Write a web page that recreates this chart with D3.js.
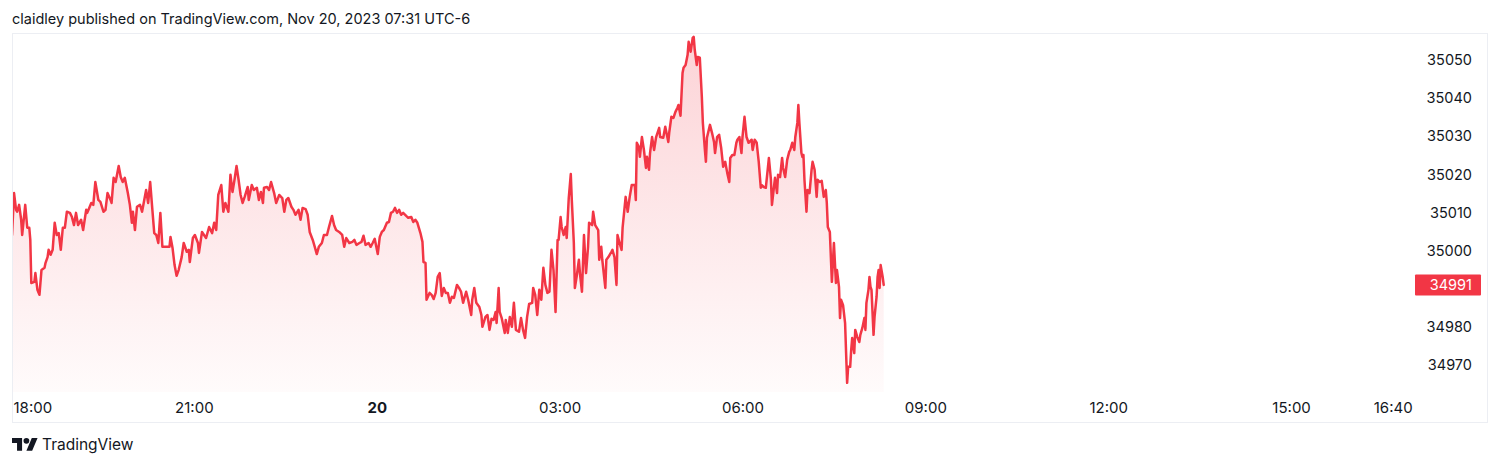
<!DOCTYPE html>
<html><head><meta charset="utf-8">
<script src="https://cdn.jsdelivr.net/npm/d3@7"></script>
<style>
body{margin:0;background:#fff;}
svg text{font-family:Inter,"Noto Sans",Roboto,sans-serif;fill:#131722;}
</style>
</head><body>
<svg id="chart" width="1500" height="466"></svg>
<script>
// ---- data (minutes after 18:00 on Nov 19, price) ----
const minutes = [
1,3,5,6,8,10,11,14,16,18,
19,20,23,24,26,28,30,33,34,36,
37,39,41,43,45,47,49,51,53,55,
58,60,62,64,66,69,71,74,75,77,
79,81,83,86,88,91,93,95,98,99,
101,103,106,108,110,112,115,117,119,120,
122,124,127,129,133,135,137,139,141,143,
145,147,149,152,156,157,159,161,163,165,
168,170,173,175,176,179,181,184,185,188,
192,195,198,200,202,204,207,209,211,214,
216,218,220,222,224,226,228,230,233,234,
237,239,242,244,246,248,249,252,254,256,
259,261,264,267,269,271,273,276,278,280,
283,285,287,290,292,294,297,299,301,303,
306,308,311,313,316,318,320,323,326,328,
330,333,336,338,340,343,345,347,349,352,
354,356,358,361,363,365,367,370,372,374,
376,378,380,382,384,386,389,391,394,396,
398,400,403,405,406,408,409,412,414,416,
418,420,422,424,426,428,430,432,434,436,
439,441,443,445,448,450,453,454,456,458,
461,463,464,467,469,471,473,475,477,478,
480,481,483,486,487,489,491,493,495,497,
500,502,504,506,508,510,513,514,516,518,
520,522,524,526,528,530,532,534,536,538,
539,541,542,544,546,547,549,551,552,554,
555,557,559,560,562,564,566,568,569,572,
573,575,578,579,581,582,585,586,588,591,
592,594,596,597,599,601,602,605,607,609,
611,614,615,616,618,619,621,623,625,626,
628,629,631,633,635,638,639,642,644,647,
648,650,652,654,656,657,659,661,662,664,
666,667,669,671,672,673,675,676,678,680,
681,683,684,685,688,690,692,693,695,697,
699,701,703,705,707,708,710,712,714,715,
717,719,720,722,724,726,729,730,732,734,
736,738,739,741,743,745,746,748,749,751,
752,754,755,757,759,760,762,764,766,767,
769,771,772,774,775,776,778,779,780,781,
783,784,786,788,789,791,793,794,796,798,
800,802,803,804,806,807,808,810,812,813,
815,816,817,819,821,822,823,824,826,827,
828,830,831,833,835,836,838,840,841,842,
844,845,846,847,849,850,852,853,854,855,
856,858,859
];
const prices = [
35004.1,35015.1,35010.7,35010.2,35012.0,35008.1,35004.1,35012.0,35006.0,35006.0,
35002.8,34991.5,34991.8,34994.1,34989.7,34988.4,34994.9,34995.5,34996.8,34998.3,
35000.2,34998.9,35000.2,35007.3,35004.1,35004.6,35000.2,35006.0,35006.0,35010.2,
35009.9,35008.8,35006.7,35009.9,35006.7,35008.1,35005.4,35010.7,35009.9,35011.2,
35012.5,35012.0,35018.0,35013.3,35012.8,35010.2,35010.7,35015.1,35013.3,35012.5,
35019.1,35018.0,35022.2,35019.3,35018.0,35019.1,35015.1,35012.0,35007.3,35010.2,
35005.4,35011.5,35012.0,35010.2,35015.9,35012.5,35018.0,35011.2,35004.6,35004.1,
35002.0,35009.9,35001.0,35001.0,35001.0,35003.6,35000.7,34996.2,34993.4,34994.9,
34998.3,35002.0,34999.7,35000.2,34997.0,35003.3,35004.1,35002.0,34999.4,35004.9,
35003.3,35006.2,35004.6,35007.3,35005.4,35014.6,35017.2,35010.2,35012.5,35010.2,
35019.9,35015.4,35018.6,35022.2,35018.6,35014.6,35012.5,35014.1,35016.7,35013.3,
35017.2,35015.9,35016.5,35013.3,35015.4,35012.5,35016.5,35016.7,35015.9,35018.0,
35015.1,35012.5,35014.6,35013.8,35010.2,35013.3,35013.8,35011.5,35010.7,35009.4,
35010.7,35008.1,35011.2,35010.9,35009.4,35004.9,35002.8,35001.0,34999.1,35001.0,
35002.0,35004.1,35004.1,35006.2,35009.1,35006.7,35005.4,35004.9,35004.1,35001.0,
35003.3,35002.0,35002.3,35002.8,35001.5,35002.0,35002.3,35003.9,35001.5,35002.0,
35001.0,35002.0,35003.1,34999.1,35003.6,35004.9,35005.4,35007.3,35007.5,35009.9,
35010.2,35011.2,35009.9,35010.7,35009.4,35009.9,35009.1,35008.6,35008.8,35007.5,
35008.1,35007.3,35004.6,35002.3,34997.0,34996.8,34987.1,34988.9,34988.4,34987.3,
34988.9,34993.1,34994.1,34988.1,34990.2,34988.9,34988.9,34986.3,34987.9,34987.6,
34991.0,34990.2,34989.2,34986.3,34989.2,34987.1,34983.1,34987.1,34990.2,34986.3,
34985.2,34983.1,34980.0,34982.6,34983.1,34979.2,34982.1,34981.8,34983.9,34981.0,
34990.2,34983.9,34982.3,34978.4,34981.8,34978.4,34982.6,34980.0,34986.3,34979.2,
34978.7,34982.3,34979.2,34977.1,34982.6,34986.0,34986.3,34990.2,34988.4,34983.1,
34989.7,34987.1,34995.5,34991.0,34988.9,34989.2,35000.2,34994.9,34983.9,35002.8,
35002.8,35008.8,35006.2,35004.1,35006.2,35003.3,35013.8,35020.1,35013.3,35002.0,
34990.2,34993.6,34997.6,34994.1,34989.2,35004.1,34994.1,35001.0,35007.3,35006.7,
35010.2,35006.7,35005.4,34997.6,35001.0,34997.6,34990.2,34997.6,34998.3,34999.7,
35000.2,34998.3,34991.0,35004.1,35002.0,35000.2,35006.0,35014.1,35010.2,35014.1,
35017.2,35017.2,35013.3,35028.3,35027.2,35024.6,35029.8,35026.4,35021.7,35024.6,
35021.2,35025.6,35029.8,35026.4,35029.8,35032.2,35029.8,35029.6,35032.5,35028.5,
35031.2,35035.1,35034.8,35036.4,35037.5,35038.2,35035.4,35046.6,35048.0,35048.7,
35051.4,35054.8,35052.2,35055.8,35056.1,35052.7,35048.7,35050.8,35050.6,35040.3,
35033.5,35026.4,35023.3,35029.6,35033.0,35030.9,35028.5,35025.6,35029.8,35030.4,
35027.0,35022.0,35023.3,35020.4,35018.0,35024.3,35025.1,35025.1,35028.3,35029.1,
35029.8,35025.6,35029.8,35035.1,35029.8,35028.3,35029.1,35026.4,35029.1,35028.3,
35023.3,35016.5,35017.2,35016.7,35016.5,35021.7,35024.3,35018.6,35012.0,35016.7,
35019.1,35015.1,35019.9,35019.3,35024.3,35021.7,35019.3,35023.8,35025.9,35026.4,
35028.3,35026.4,35029.8,35033.5,35038.2,35033.5,35025.6,35024.6,35025.1,35018.6,
35010.2,35015.9,35015.1,35021.2,35023.3,35021.2,35014.1,35018.6,35018.0,35018.3,
35014.1,35015.9,35012.5,35006.2,35004.9,34998.3,34991.8,35002.0,34991.5,34994.9,
34990.5,34982.3,34987.1,34985.7,34981.0,34973.1,34965.3,34969.5,34969.5,34973.9,
34977.1,34973.1,34979.2,34977.3,34976.0,34977.9,34979.7,34982.3,34979.2,34986.3,
34989.7,34993.1,34990.5,34989.7,34977.9,34982.6,34987.9,34993.1,34994.9,34990.2,
34996.2,34993.1,34991.0
];
const yTickValues = [34970, 34980, 35000, 35010, 35020, 35030, 35040, 35050];
const xTickTimes = ["2023-11-19 18:00","2023-11-19 21:00","2023-11-20 00:00","2023-11-20 03:00",
  "2023-11-20 06:00","2023-11-20 09:00","2023-11-20 12:00","2023-11-20 15:00","2023-11-20 16:40"];
const xTickLabels = ["18:00","21:00","20","03:00","06:00","09:00","12:00","15:00","16:40"];
const sessionStart = "2023-11-19 18:00";
const sessionEnd = "2023-11-20 17:00";
const lastPrice = 34991;
const headerText = "claidley published on TradingView.com, Nov 20, 2023 07:31 UTC-6";
const brandText = "TradingView";

// ---- layout ----
const RED = "#F23645";
const parse = d3.timeParse("%Y-%m-%d %H:%M");
const t0 = parse(sessionStart);
const data = minutes.map((m, i) => ({t: new Date(t0.getTime() + m * 60000), v: prices[i]}));

const frame = {left: 12, top: 33, right: 1487, bottom: 422};
const pane = {left: 11, right: 1413, top: 33, bottom: 392};

const x = d3.scaleTime().domain([t0, parse(sessionEnd)]).range([pane.left, pane.right]);
const y = d3.scaleLinear().domain([34962.9, 35057.1]).range([pane.bottom, pane.top]);

const svg = d3.select("#chart");

// header
svg.append("text").attr("x", 12).attr("y", 24).attr("font-size", 14.5).text(headerText);

// frame
svg.append("rect")
  .attr("x", frame.left + 0.5).attr("y", frame.top + 0.5)
  .attr("width", frame.right - frame.left).attr("height", frame.bottom - frame.top)
  .attr("fill", "none").attr("stroke", "#eceef3");

// gradient
const defs = svg.append("defs");
const grad = defs.append("linearGradient").attr("id", "fillGrad")
  .attr("gradientUnits", "userSpaceOnUse")
  .attr("x1", 0).attr("x2", 0).attr("y1", pane.top).attr("y2", pane.bottom);
grad.append("stop").attr("offset", 0).attr("stop-color", RED).attr("stop-opacity", 0.22);
grad.append("stop").attr("offset", 1).attr("stop-color", RED).attr("stop-opacity", 0.02);
defs.append("clipPath").attr("id", "paneClip").append("rect")
  .attr("x", frame.left + 1).attr("y", pane.top).attr("width", pane.right - frame.left).attr("height", pane.bottom - pane.top);

const g = svg.append("g").attr("clip-path", "url(#paneClip)");
g.append("path").datum(data)
  .attr("fill", "url(#fillGrad)")
  .attr("d", d3.area().x(d => x(d.t)).y0(pane.bottom).y1(d => y(d.v)));
g.append("path").datum(data)
  .attr("fill", "none").attr("stroke", RED).attr("stroke-width", 2.5)
  .attr("stroke-linejoin", "round").attr("stroke-linecap", "round")
  .attr("d", d3.line().x(d => x(d.t)).y(d => y(d.v)));

// y axis
const yAxis = svg.append("g").attr("transform", "translate(1472,0)")
  .call(d3.axisRight(y).tickValues(yTickValues).tickSize(0).tickFormat(d3.format("d")));
yAxis.select(".domain").remove();
yAxis.selectAll("text").attr("x", 0).attr("text-anchor", "end")
  .attr("font-size", 14.5).attr("font-family", null).attr("fill", "#131722");

// last price label
const py = y(lastPrice);
svg.append("rect").attr("x", 1415).attr("y", py - 10.5).attr("width", 66).attr("height", 21)
  .attr("rx", 1).attr("fill", RED);
svg.append("text").attr("x", 1472).attr("y", py).attr("dy", "0.35em").attr("text-anchor", "end")
  .attr("font-size", 14.5).style("fill", "#fff").text(d3.format("d")(lastPrice));

// x axis
const xTicks = xTickTimes.map(parse);
const xAxis = svg.append("g")
  .call(d3.axisBottom(x).tickValues(xTicks).tickSize(0).tickFormat((d, i) => xTickLabels[i]));
xAxis.select(".domain").remove();
xAxis.selectAll("text").attr("y", 413).attr("dy", 0)
  .attr("font-size", 15).attr("font-family", null).attr("fill", "#131722")
  .attr("font-weight", (d, i) => xTickLabels[i] === "20" ? 700 : 400)
  .attr("text-anchor", (d, i) => i === 0 ? "start" : "middle")
  .attr("x", (d, i) => i === 0 ? frame.left + 1 - x(d) : 0);

// brand logo
const logo = svg.append("g").attr("transform", "translate(12,435) scale(0.72)").attr("fill", "#131722");
logo.append("path").attr("d", "M14 22H7V11H0V4h14v18zM28 22h-8l7.5-18h8L28 22z");
logo.append("circle").attr("cx", 20).attr("cy", 8).attr("r", 4);
svg.append("text").attr("x", 42).attr("y", 450).attr("font-size", 15.5).attr("font-weight", 400).text(brandText);
</script>
</body></html>
